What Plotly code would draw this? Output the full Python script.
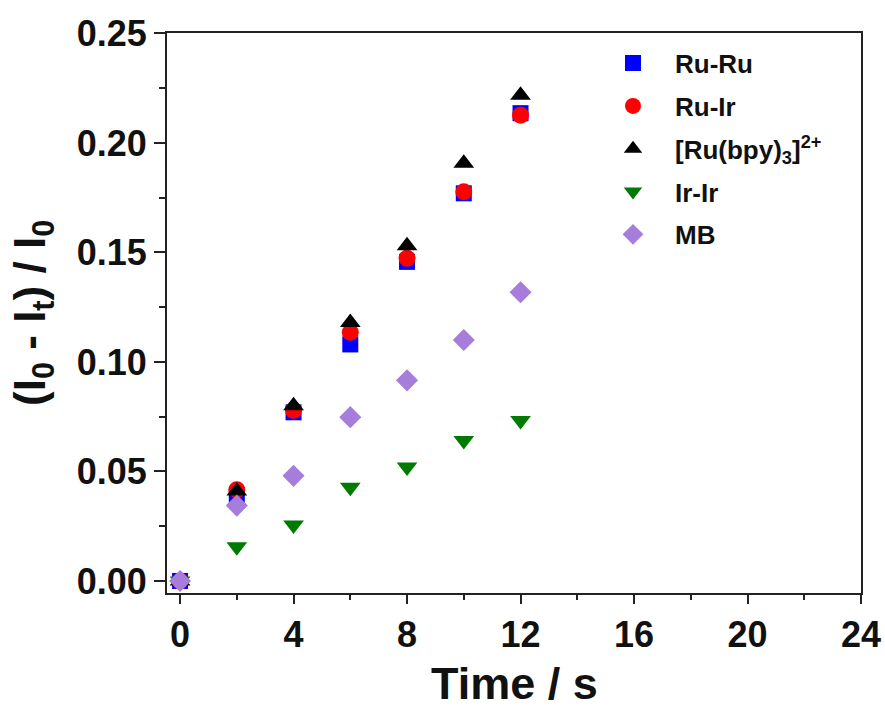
import plotly.graph_objects as go

time_s = [0, 2, 4, 6, 8, 10, 12]
ru_ru = [0.0, 0.0393, 0.077, 0.108, 0.1457, 0.177, 0.2136]
ru_ir = [0.0, 0.0416, 0.078, 0.1136, 0.1474, 0.1777, 0.2127]
ru_bpy = [0.0, 0.0411, 0.080, 0.118, 0.153, 0.1907, 0.2218]
ir_ir = [0.0, 0.0156, 0.0255, 0.0428, 0.052, 0.0641, 0.0733]
mb = [0.0, 0.0344, 0.048, 0.0748, 0.0916, 0.110, 0.1318]

series = [
    ("Ru-Ru", ru_ru, "square", "#0000FF", 16),
    ("Ru-Ir", ru_ir, "circle", "#FF0000", 17),
    ("[Ru(bpy)<sub>3</sub>]<sup>2+</sup>", ru_bpy, "triangle-up", "#000000", 18),
    ("Ir-Ir", ir_ir, "triangle-down", "#007A00", 18),
    ("MB", mb, "diamond", "#A67DDB", 17),
]

FONT = "Liberation Sans, Arial, sans-serif"

fig = go.Figure()
for i, (name, ys, sym, col, sz) in enumerate(series):
    fig.add_trace(go.Scatter(
        x=time_s, y=ys, mode="markers", name=name, legendgroup=f"g{i}",
        marker=dict(symbol=sym, color=col, size=sz, line=dict(width=0)),
    ))

axis_common = dict(
    showgrid=False, zeroline=False, showline=True, linecolor="#222222",
    linewidth=2, mirror=True, ticks="outside", tickwidth=2, tickcolor="#222222",
    automargin=False,
    tickfont=dict(family=FONT, size=36, color="#111111", weight="bold"),
)

fig.update_layout(
    width=885, height=711,
    margin=dict(l=167, r=24, t=33, b=118),
    paper_bgcolor="white", plot_bgcolor="white",
    showlegend=True,
    legend=dict(
        x=(591 - 167) / 694, y=0.988, xanchor="left", yanchor="top",
        font=dict(family=FONT, size=26, color="#111111", weight="bold"),
        bgcolor="rgba(0,0,0,0)", borderwidth=0, tracegroupgap=6,
        itemsizing="trace", itemwidth=74,
    ),
    xaxis=dict(
        range=[-0.46, 24], tickvals=[0, 4, 8, 12, 16, 20, 24], ticklen=9,
        minor=dict(tickvals=[2, 6, 10, 14, 18, 22], ticklen=5, ticks="outside",
                   tickwidth=2, tickcolor="#222222"),
        **axis_common,
    ),
    yaxis=dict(
        range=[-0.0055, 0.2502], tickvals=[0, 0.05, 0.10, 0.15, 0.20, 0.25],
        tickformat=".2f", ticklen=11,
        minor=dict(tickvals=[0.025, 0.075, 0.125, 0.175, 0.225], ticklen=6,
                   ticks="outside", tickwidth=2, tickcolor="#222222"),
        **axis_common,
    ),
    annotations=[
        dict(text="Time / s", xref="paper", yref="paper", x=0.5,
             y=(593 - 710) / 560, xanchor="center", yanchor="bottom",
             showarrow=False, borderpad=0,
             font=dict(family=FONT, size=45, color="#111111", weight="bold")),
        dict(text="(I<sub>0</sub> - I<sub>t</sub>) / I<sub>0</sub>", xref="paper",
             yref="paper", x=(33 - 167) / 694, y=0.5, xanchor="center",
             yanchor="middle", textangle=-90, showarrow=False,
             font=dict(family=FONT, size=44, color="#111111", weight="bold")),
    ],
)

fig.write_html("out.html")
